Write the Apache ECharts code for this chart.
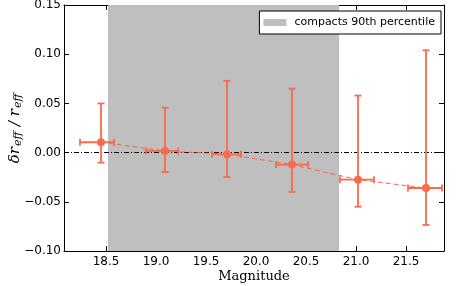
<!DOCTYPE html>
<html><head><meta charset="utf-8">
<script src="https://cdn.jsdelivr.net/npm/echarts@6/dist/echarts.min.js"></script>
<style>html,body{margin:0;padding:0;background:#fff}#c{width:458px;height:286px}</style>
</head><body><div id="c"></div>
<script>
const magnitude = [18.45, 19.09, 19.71, 20.36, 21.02, 21.70];
const magLow    = [18.24, 18.90, 19.56, 20.20, 20.84, 21.52];
const magHigh   = [18.58, 19.22, 19.85, 20.52, 21.18, 21.86];
const dReff     = [0.0105, 0.0017, -0.0017, -0.0122, -0.0275, -0.036];
const dReffLow  = [-0.0102, -0.0197, -0.025, -0.040, -0.055, -0.0735];
const dReffHigh = [0.050, 0.0456, 0.073, 0.065, 0.058, 0.104];
const compactsRange = [18.52, 20.83];
const xTicks = [18.5, 19.0, 19.5, 20.0, 20.5, 21.0, 21.5];
const yTicks = [-0.10, -0.05, 0.00, 0.05, 0.10, 0.15];

const RED = '#fa6a4c';
const chart = echarts.init(document.getElementById('c'));
const fmtY = v => (v < 0 ? '\u2212' : '') + Math.abs(v).toFixed(2);
const tickFont = {fontFamily: 'DejaVu Sans', fontSize: 12, color: '#000'};

const errData = magnitude.map((m, i) => [m, dReff[i], magLow[i], magHigh[i], dReffLow[i], dReffHigh[i]]);

chart.setOption({
  animation: false,
  grid: {left: 64, right: 14, top: 5, bottom: 35, containLabel: false, outerBoundsMode: 'none'},
  legend: {
    data: [{name: 'compacts 90th percentile', icon: 'rect'}],
    right: 17, top: 11, itemWidth: 23, itemHeight: 7, itemGap: 6,
    padding: [6, 6, 6, 4], borderColor: '#000', borderWidth: 1, borderRadius: 0,
    backgroundColor: '#fff',
    textStyle: {fontFamily: 'DejaVu Sans', fontSize: 11, color: '#000', padding: [0, 0, 0, 3]}
  },
  xAxis: [{
    type: 'value', min: 18.08, max: 21.88, position: 'bottom',
    name: 'Magnitude', nameLocation: 'middle', nameGap: 19, nameMoveOverlap: false,
    nameTextStyle: {fontFamily: 'DejaVu Serif', fontSize: 13, color: '#000'},
    axisLine: {show: true, onZero: false, lineStyle: {color: '#000', width: 1}},
    axisTick: {show: true, inside: true, length: 5, customValues: xTicks, lineStyle: {color: '#000'}},
    axisLabel: Object.assign({customValues: xTicks, formatter: v => v.toFixed(1), margin: 5}, tickFont),
    splitLine: {show: false}
  }, {
    type: 'value', min: 18.08, max: 21.88, position: 'top',
    axisLine: {show: true, onZero: false, lineStyle: {color: '#000', width: 1}},
    axisTick: {show: true, inside: true, length: 5, customValues: xTicks, lineStyle: {color: '#000'}},
    axisLabel: {show: false}, splitLine: {show: false}
  }],
  yAxis: [{
    type: 'value', min: -0.10, max: 0.15, interval: 0.05, position: 'left',
    name: '{i|δr}{s|eff}{i| / r}{s|eff}', nameLocation: 'middle', nameGap: 40, nameRotate: 90,
    nameMoveOverlap: false,
    nameTextStyle: {
      rich: {
        i: {fontFamily: 'DejaVu Serif', fontStyle: 'italic', fontSize: 15, color: '#000'},
        s: {fontFamily: 'DejaVu Serif', fontStyle: 'italic', fontSize: 11, color: '#000', padding: [7, 1, 0, 1]}
      }
    },
    axisLine: {show: true, onZero: false, lineStyle: {color: '#000', width: 1}},
    axisTick: {show: true, inside: true, length: 5, lineStyle: {color: '#000'}},
    axisLabel: Object.assign({formatter: fmtY, margin: 3}, tickFont),
    splitLine: {show: false}
  }, {
    type: 'value', min: -0.10, max: 0.15, interval: 0.05, position: 'right',
    axisLine: {show: true, onZero: false, lineStyle: {color: '#000', width: 1}},
    axisTick: {show: true, inside: true, length: 5, lineStyle: {color: '#000'}},
    axisLabel: {show: false}, splitLine: {show: false}
  }],
  series: [{
    name: 'compacts 90th percentile', type: 'custom', z: 1,
    itemStyle: {color: '#bfbfbf'},
    data: [[compactsRange[0], compactsRange[1]]],
    renderItem: (params, api) => {
      const p0 = api.coord([api.value(0), 0.15]);
      const p1 = api.coord([api.value(1), -0.10]);
      return {type: 'rect', shape: {x: p0[0], y: p0[1], width: p1[0] - p0[0], height: p1[1] - p0[1]},
              style: {fill: '#bfbfbf'}};
    },
    markLine: {
      silent: true, symbol: 'none', z: 2, label: {show: false},
      lineStyle: {color: '#000', width: 1, type: [5, 2, 1, 2]},
      data: [{yAxis: 0}]
    }
  }, {
    name: 'fit', type: 'line', z: 3,
    data: magnitude.map((m, i) => [m, dReff[i]]),
    lineStyle: {color: RED, width: 1, type: [5, 3]},
    symbol: 'none'
  }, {
    name: 'err', type: 'custom', z: 4,
    data: errData,
    renderItem: (params, api) => {
      const c = api.coord([api.value(0), api.value(1)]);
      const l = api.coord([api.value(2), api.value(1)]);
      const r = api.coord([api.value(3), api.value(1)]);
      const lo = api.coord([api.value(0), api.value(4)]);
      const hi = api.coord([api.value(0), api.value(5)]);
      const st = {stroke: RED, lineWidth: 1.8};
      const cap = 3.5;
      return {type: 'group', children: [
        {type: 'line', shape: {x1: l[0], y1: l[1], x2: r[0], y2: r[1]}, style: st},
        {type: 'line', shape: {x1: lo[0], y1: lo[1], x2: hi[0], y2: hi[1]}, style: st},
        {type: 'line', shape: {x1: l[0], y1: l[1] - cap, x2: l[0], y2: l[1] + cap}, style: st},
        {type: 'line', shape: {x1: r[0], y1: r[1] - cap, x2: r[0], y2: r[1] + cap}, style: st},
        {type: 'line', shape: {x1: lo[0] - cap, y1: lo[1], x2: lo[0] + cap, y2: lo[1]}, style: st},
        {type: 'line', shape: {x1: hi[0] - cap, y1: hi[1], x2: hi[0] + cap, y2: hi[1]}, style: st},
        {type: 'circle', shape: {cx: c[0], cy: c[1], r: 4}, style: {fill: RED}}
      ]};
    }
  }]
});
</script></body></html>
